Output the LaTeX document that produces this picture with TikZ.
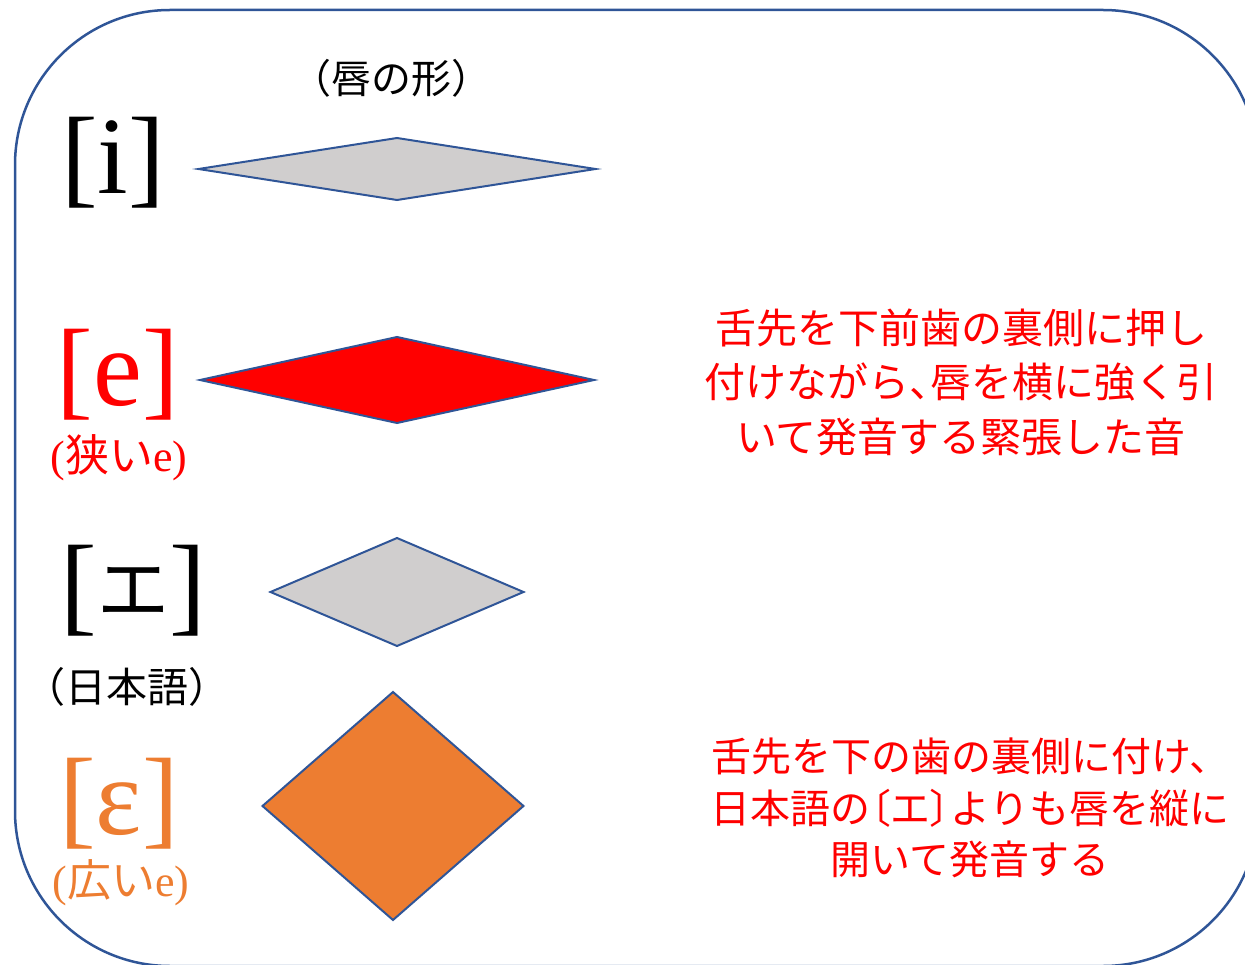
\documentclass[tikz,border=0pt]{standalone}
\usepackage{fontspec}
\setmainfont{Liberation Serif}
\newfontfamily\jp{Noto Sans CJK JP}
\newfontfamily\jpp[RawFeature=+palt]{Noto Sans CJK JP}
\usetikzlibrary{shapes.geometric}
\definecolor{bluel}{HTML}{2F5597}
\definecolor{grayf}{HTML}{D0CECE}
\definecolor{redt}{HTML}{FF0000}
\definecolor{orng}{HTML}{ED7D31}
\begin{document}
\begin{tikzpicture}[x=1pt,y=-1pt,
  lip/.style={diamond, draw=bluel, line width=2pt, inner sep=0pt, outer sep=0pt},
  big/.style={font=\fontsize{110}{110}\selectfont, inner sep=0pt, anchor=base},
  small/.style={inner sep=0pt},
  desc/.style={text=redt, align=center, inner sep=0pt}]
\useasboundingbox (0,0) rectangle (1245,965);
\draw[bluel, line width=2.5pt, rounded corners=155pt] (15,10) rectangle (1258,966);
% title
\node[small, font=\jp\fontsize{40}{40}\selectfont] (title) at (391,78) {（唇の形）};
% big labels
\node[big] (li) at (113,194) {[i]};
\node[big, text=redt] (le) at (118,406) {[e]};
\node[big] (lE) at (133,621) {[\raisebox{6pt}{\jp\fontsize{72}{72}\selectfont エ}]};
\node[big, text=orng] (leps) at (119,834) {[ɛ]};
% small labels
\node[small, text=redt, font=\fontsize{44}{44}\selectfont] (ne) at (119,458) {({\jp 狭い}e)};
\node[small, font=\jp\fontsize{41}{41}\selectfont] (nj) at (127,687) {（日本語）};
\node[small, text=orng, font=\fontsize{44}{44}\selectfont] (we) at (121,883) {({\jp 広い}e)};
% lip shapes
\node[lip, fill=grayf, minimum width=397pt, minimum height=62pt] (d1) at (397,169) {};
\node[lip, fill=redt, minimum width=394pt, minimum height=86pt] (d2) at (397,380) {};
\node[lip, fill=grayf, minimum width=253pt, minimum height=108pt] (d3) at (397,592) {};
\node[lip, fill=orng, minimum width=261pt, minimum height=228pt] (d4) at (393,806) {};
% descriptions
\node[desc, font=\jp\fontsize{41}{54.5}\selectfont] (t1) at (961,382)
  {舌先を下前歯の裏側に押し\\付けながら{\jpp 、}唇を横に強く引\\いて発音する緊張した音};
\node[desc, font=\jp\fontsize{40}{51.5}\selectfont] (t2) at (970,808)
  {舌先を下の歯の裏側に付け、\\日本語の{\jpp 〔}エ{\jpp 〕}よりも唇を縦に\\開いて発音する};
\end{tikzpicture}
\end{document}
